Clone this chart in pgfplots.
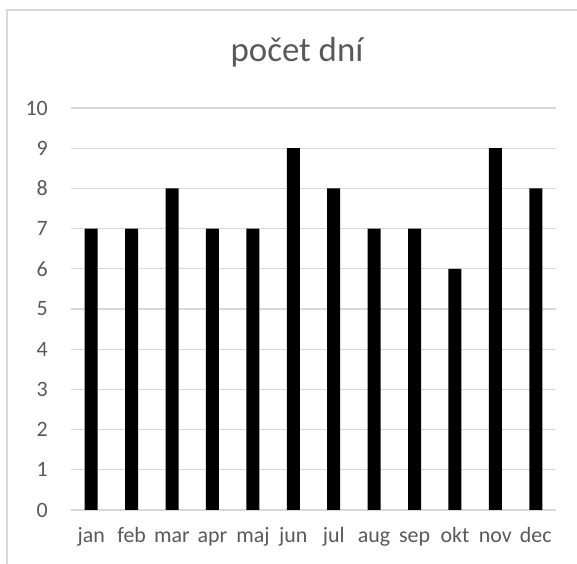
\documentclass[border=0pt]{standalone}
\usepackage{fontspec}
\setmainfont{Carlito}
\usepackage{pgfplots}
\pgfplotsset{compat=1.18}
\definecolor{txt}{HTML}{595959}
\definecolor{grd}{HTML}{D9D9D9}
\begin{document}
\begin{tikzpicture}[x=1bp,y=1bp]
\useasboundingbox (0,0) rectangle (577,564);
\draw[grd, line width=1.3bp] (7,0) -- (7,554) -- (577,554);
\node[txt, font=\fontsize{35}{40}\selectfont] at (297,512) {počet dní};
\begin{axis}[
  at={(71bp,54bp)}, anchor=south west,
  scale only axis, width=485bp, height=402bp,
  xmin=-0.5, xmax=11.5, ymin=0, ymax=10,
  ytick={0,1,...,10},
  xtick={0,...,11},
  xticklabels={jan,feb,mar,apr,maj,jun,jul,aug,sep,okt,nov,dec},
  axis line style={draw=none},
  major tick length=0pt,
  ymajorgrids, grid style={grd, line width=1.3bp},
  /pgf/number format/assume math mode=true,
  tick label style={txt, font=\fontsize{22}{24}\selectfont},
  yticklabel style={inner sep=0pt, xshift=-23bp},
  xticklabel style={inner sep=0pt, anchor=base, yshift=-33bp},
  ybar, bar width=13bp,
]
\addplot[fill=black, draw=none] coordinates {(0,7) (1,7) (2,8) (3,7) (4,7) (5,9) (6,8) (7,7) (8,7) (9,6) (10,9) (11,8)};
\end{axis}
\end{tikzpicture}
\end{document}
